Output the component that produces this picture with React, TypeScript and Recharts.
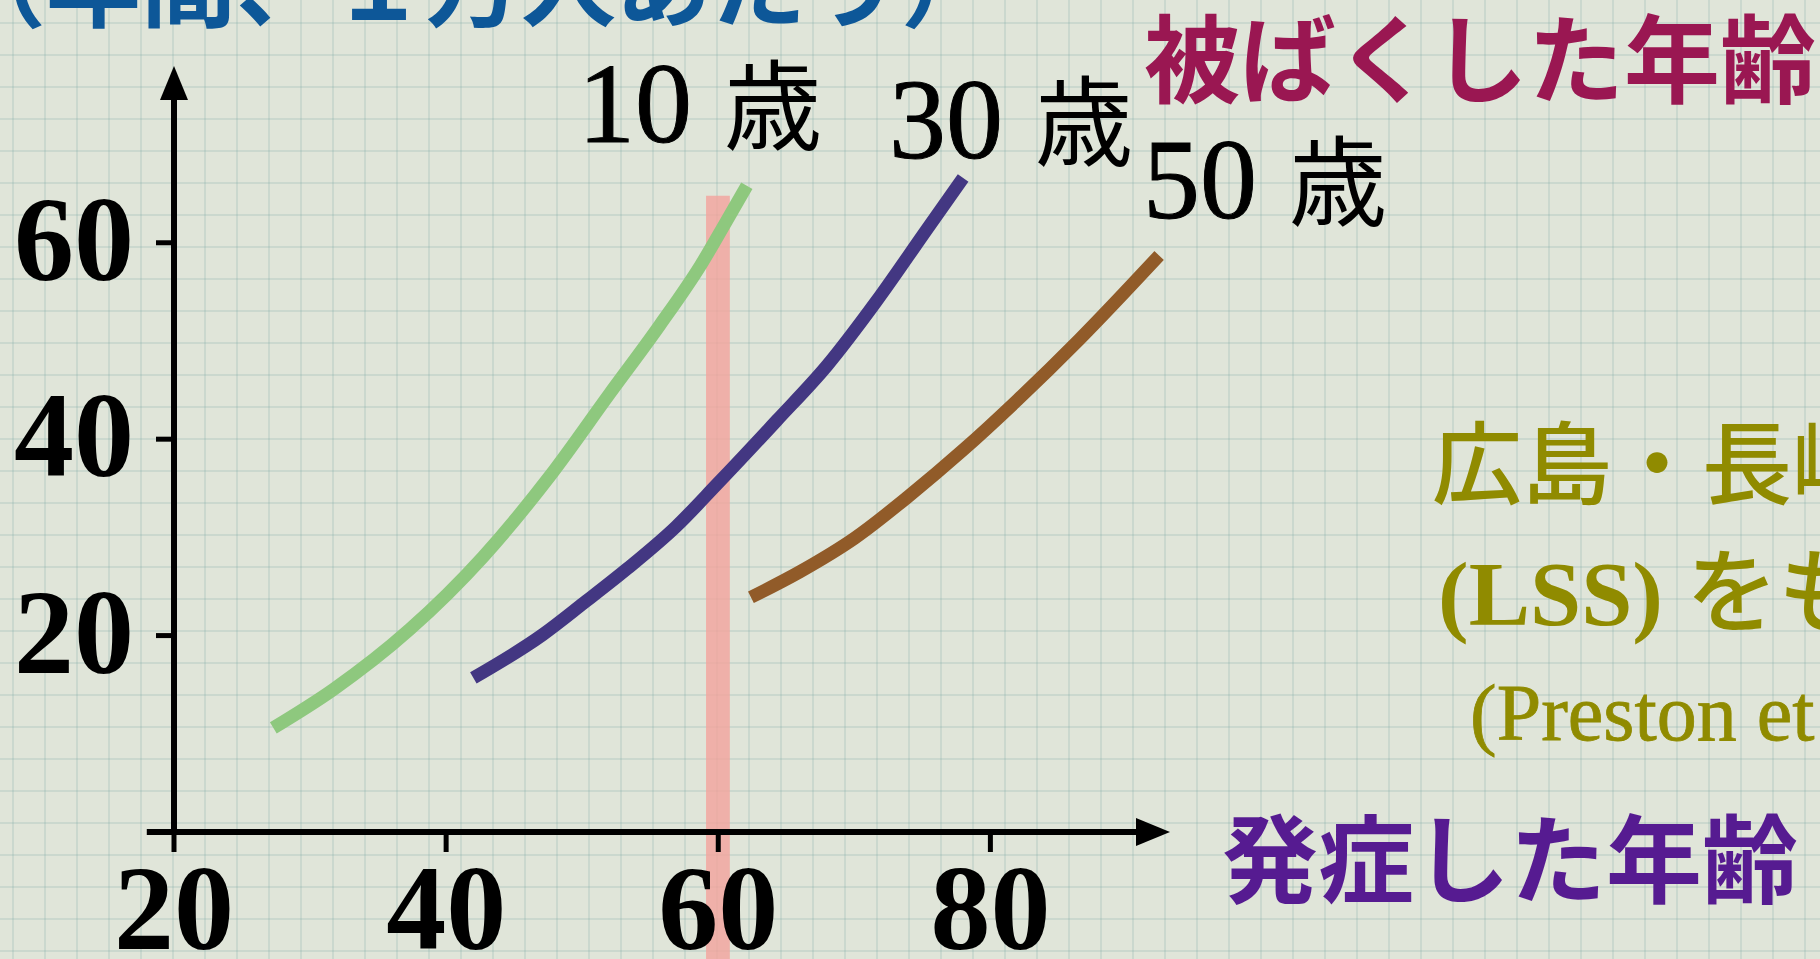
import React from 'react';
import { LineChart, Line, XAxis, YAxis, ReferenceLine, ReferenceArea, ReferenceDot } from 'recharts';

// onset age (x) and annual cases per 10,000 people (y), by age at exposure
const onsetAge10 = [27.3, 31.7, 37.3, 42.7, 47.6, 52.0, 55.7, 58.7, 60.6, 62.1];
const rate10 = [10.6, 14.5, 20.6, 28.0, 36.2, 44.6, 51.6, 57.7, 62.2, 65.8];

const onsetAge30 = [42.0, 47.1, 50.1, 53.3, 56.9, 59.9, 64.3, 68.0, 71.6, 75.3, 78.0];
const rate30 = [15.7, 20.1, 23.3, 26.8, 31.1, 35.4, 41.9, 47.5, 54.0, 61.3, 66.6];

const onsetAge50 = [62.4, 66.0, 70.0, 74.0, 78.0, 82.0, 86.5, 92.4];
const rate50 = [23.9, 26.5, 29.9, 34.2, 38.9, 44.0, 50.1, 58.7];

const xTicks = [20, 40, 60, 80];
const yTicks = [20, 40, 60];

const seriesNames = ['10 歳', '30 歳', '50 歳'];
const seriesColors = ['#8ec87e', '#433782', '#915b29'];

const toPoints = (xs: number[], ys: number[]) => xs.map((x, i) => ({ x, y: ys[i] }));
const seriesData = [
  toPoints(onsetAge10, rate10),
  toPoints(onsetAge30, rate30),
  toPoints(onsetAge50, rate50),
];

const SERIF = '"Liberation Serif", "Noto Sans CJK JP", serif';
const SANS = '"Noto Sans CJK JP", sans-serif';

const XTick = (p: any) => (
  <text
    x={p.x}
    y={p.y + 97}
    textAnchor="middle"
    fontFamily={SERIF}
    fontSize={120}
    fontWeight={700}
    fill="#000"
  >
    {p.payload.value}
  </text>
);

const YTick = (p: any) => (
  <text
    x={p.x}
    y={p.y + 37}
    textAnchor="end"
    fontFamily={SERIF}
    fontSize={120}
    fontWeight={700}
    fill="#000"
  >
    {p.payload.value}
  </text>
);

const upArrow = (p: any) => (
  <polygon
    points={`${p.cx},${p.cy} ${p.cx - 14},${p.cy + 34} ${p.cx + 14},${p.cy + 34}`}
    fill="#000"
  />
);
const rightArrow = (p: any) => (
  <polygon
    points={`${p.cx},${p.cy} ${p.cx - 34},${p.cy - 14} ${p.cx - 34},${p.cy + 14}`}
    fill="#000"
  />
);

export default function App() {
  return (
    <div
      style={{
        position: 'absolute',
        left: 0,
        top: 0,
        width: 1820,
        height: 959,
        overflow: 'hidden',
        backgroundColor: '#e0e5d9',
        backgroundImage:
          'linear-gradient(to right, rgba(120,165,160,0.2) 0px, rgba(120,165,160,0.2) 2px, transparent 2px), linear-gradient(to bottom, rgba(120,165,160,0.2) 0px, rgba(120,165,160,0.2) 2px, transparent 2px)',
        backgroundSize: '32px 32px',
        backgroundPosition: '12px 22px',
      }}
    >
      <div style={{ position: 'absolute', left: 0, top: 0 }}>
        <LineChart width={1820} height={959} margin={{ top: 66, right: 650, bottom: 0, left: 0 }}>
          <XAxis
            type="number"
            dataKey="x"
            domain={[20, 93.2]}
            ticks={xTicks}
            interval={0}
            allowDataOverflow
            height={127}
            axisLine={false}
            tickLine={{ stroke: '#000', strokeWidth: 5 }}
            tickSize={20}
            tickMargin={0}
            tick={XTick}
          />
          <YAxis
            type="number"
            domain={[0, 78]}
            ticks={yTicks}
            interval={0}
            allowDataOverflow
            width={174}
            axisLine={false}
            tickLine={{ stroke: '#000', strokeWidth: 5 }}
            tickSize={18}
            tickMargin={22}
            tick={YTick}
          />
          <ReferenceLine
            segment={[{ x: 18, y: 0 }, { x: 91, y: 0 }]}
            stroke="#000"
            strokeWidth={6}
            ifOverflow="visible"
          />
          <ReferenceLine
            segment={[{ x: 20, y: 0 }, { x: 20, y: 75 }]}
            stroke="#000"
            strokeWidth={6}
            ifOverflow="visible"
          />
          <ReferenceDot x={20} y={78} ifOverflow="visible" shape={upArrow} />
          <ReferenceDot x={93.2} y={0} ifOverflow="visible" shape={rightArrow} />
          {seriesData.map((d, i) => (
            <Line
              key={seriesNames[i]}
              data={d}
              dataKey="y"
              name={seriesNames[i]}
              type="monotone"
              stroke={seriesColors[i]}
              strokeWidth={13}
              dot={false}
              activeDot={false}
              isAnimationActive={false}
            />
          ))}
          <ReferenceArea
            x1={59.1}
            x2={60.85}
            y1={-14}
            y2={64.8}
            fill="#f4a29b"
            fillOpacity={0.78}
            stroke="none"
            ifOverflow="visible"
          />
        </LineChart>
      </div>
      <svg
        width={1820}
        height={959}
        style={{ position: 'absolute', left: 0, top: 0, pointerEvents: 'none' }}
      >
        <text x={-49} y={20} fontFamily={SANS} fontSize={95} fontWeight={700} fill="#0d5798">
          （年間、１万人あたり）
        </text>
        <text x={1144} y={95} fontFamily={SANS} fontSize={96} fontWeight={700} fill="#9a1752">
          被ばくした年齢
        </text>
        <text x={578} y={142} fontFamily={SERIF} fontSize={114} fill="#000" stroke="#000" strokeWidth={1}>
          10<tspan dx={32} fontSize={98} strokeWidth={0}>歳</tspan>
        </text>
        <text x={889} y={158} fontFamily={SERIF} fontSize={114} fill="#000" stroke="#000" strokeWidth={1}>
          30<tspan dx={32} fontSize={98} strokeWidth={0}>歳</tspan>
        </text>
        <text x={1143} y={218} fontFamily={SERIF} fontSize={114} fill="#000" stroke="#000" strokeWidth={1}>
          50<tspan dx={32} fontSize={98} strokeWidth={0}>歳</tspan>
        </text>
        <text x={1432} y={497} fontFamily={SERIF} fontSize={90} fontWeight={500} fill="#908b00">
          広島・長崎の被爆者の寿命調査
        </text>
        <text x={1438} y={625} fontFamily={SERIF} fontSize={92} fontWeight={700} fill="#908b00">
          (LSS)<tspan fontWeight={500}> をもとに作成</tspan>
        </text>
        <text x={1470} y={740} fontFamily={SERIF} fontSize={80} fill="#908b00" stroke="#908b00" strokeWidth={0.8}>
          (Preston et al. 2007)
        </text>
        <text x={1222} y={895} fontFamily={SANS} fontSize={96} fontWeight={700} fill="#561b91">
          発症した年齢
        </text>
      </svg>
    </div>
  );
}
